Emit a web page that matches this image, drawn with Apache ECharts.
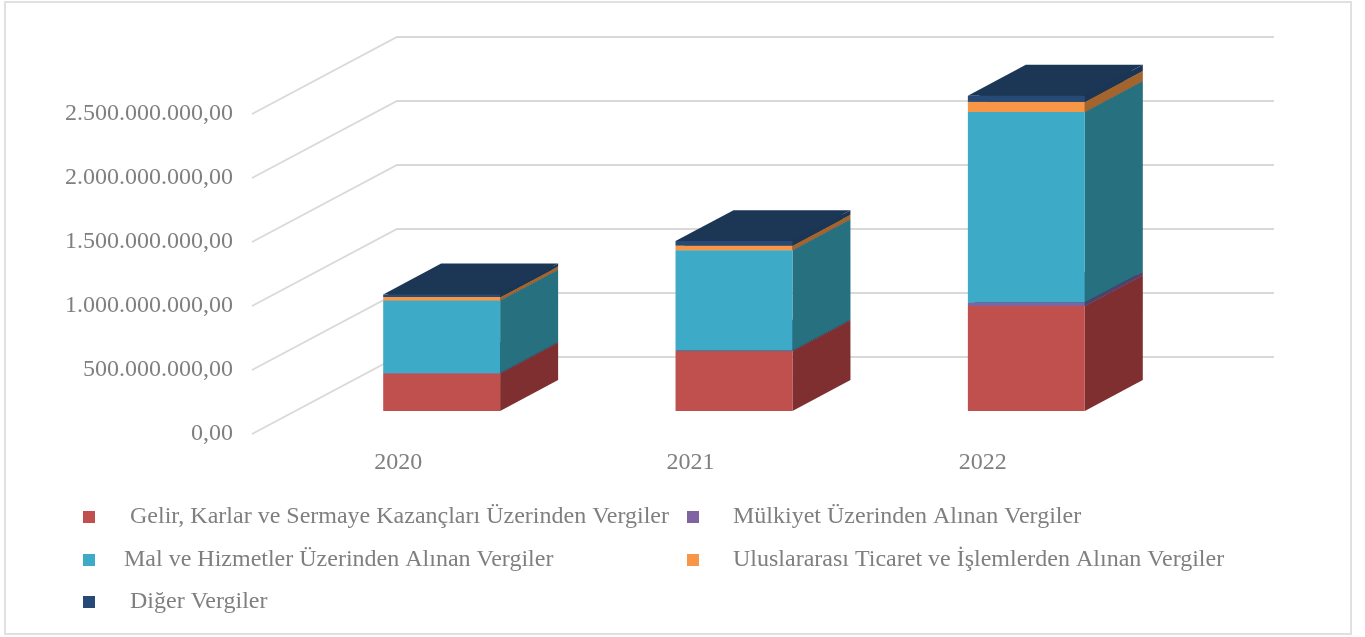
<!DOCTYPE html>
<html>
<head>
<meta charset="utf-8">
<title>Vergiler</title>
<style>
html, body { margin: 0; padding: 0; background: #fff; }
#main { width: 1365px; height: 637px; }
</style>
<script src="https://cdn.jsdelivr.net/npm/echarts@6/dist/echarts.min.js"></script>
</head>
<body>
<div id="main"></div>
<script>
var years = ['2020', '2021', '2022'];
var yTicks = [0, 500000000, 1000000000, 1500000000, 2000000000, 2500000000];

var gelir = [293000000, 467000000, 820000000];
var mulkiyet = [4000000, 5000000, 26000000];
var mal = [566000000, 784000000, 1490000000];
var ticaret = [27000000, 37000000, 80000000];
var diger = [20000000, 34000000, 47000000];

var names = [
    'Gelir, Karlar ve Sermaye Kazançları Üzerinden Vergiler',
    'Mülkiyet Üzerinden Alınan Vergiler',
    'Mal ve Hizmetler Üzerinden Alınan Vergiler',
    'Uluslararası Ticaret ve İşlemlerden Alınan Vergiler',
    'Diğer Vergiler'
];
var values = [gelir, mulkiyet, mal, ticaret, diger];

var frontColors = ['#C0504D', '#8064A2', '#3DABC7', '#F79646', '#264A75'];
var sideColors = ['#7F2F2F', '#54406B', '#27707F', '#A4642E', '#1A3654'];
var topColor = '#1B3755';

// floor depth of the fake 3d box, in pixels
var depthX = 145;
var depthY = 77;
// bar sits from 30% to 70% of the floor depth
var barStart = 0.3;
var barEnd = 0.7;

var fontName = '"Liberation Serif", "Times New Roman", serif';
var textColor = '#7F7F7F';

function formatTick(v) {
    var s = String(v).replace(/\B(?=(\d{3})+$)/g, '.');
    return s + ',00';
}

function renderWall(params, api) {
    var sys = params.coordSys;
    var y = api.coord([0, api.value(0)])[1];
    return {
        type: 'polyline',
        shape: {
            points: [
                [sys.x, y],
                [sys.x + depthX, y - depthY],
                [sys.x + sys.width + depthX, y - depthY]
            ]
        },
        style: { fill: null, stroke: '#D9D9D9', lineWidth: 1.8 }
    };
}

function makeRenderBar(idx) {
    return function (params, api) {
        var cat = api.value(0);
        var low = api.coord([cat, api.value(1)]);
        var high = api.coord([cat, api.value(2)]);
        var w = api.size([1, 0])[0] * 0.4;
        var x0 = low[0] - w / 2 + depthX * barStart;
        var x1 = x0 + w;
        var y0 = low[1] - depthY * barStart;
        var y1 = high[1] - depthY * barStart;
        var dx = depthX * (barEnd - barStart);
        var dy = depthY * (barEnd - barStart);
        return {
            type: 'group',
            children: [
                {
                    type: 'polygon',
                    shape: { points: [[x1, y0], [x1 + dx, y0 - dy], [x1 + dx, y1 - dy], [x1, y1]] },
                    style: { fill: sideColors[idx] }
                },
                {
                    type: 'polygon',
                    shape: { points: [[x0, y1], [x1, y1], [x1 + dx, y1 - dy], [x0 + dx, y1 - dy]] },
                    style: { fill: topColor }
                },
                {
                    type: 'rect',
                    shape: { x: x0, y: y1, width: w, height: y0 - y1 },
                    style: { fill: frontColors[idx] }
                }
            ]
        };
    };
}

var series = [{
    type: 'custom',
    name: 'wall',
    silent: true,
    renderItem: renderWall,
    encode: { y: 0 },
    data: yTicks.map(function (v) { return [v]; })
}];

var sum = [0, 0, 0];
for (var i = 0; i < names.length; i++) {
    var rows = [];
    for (var j = 0; j < years.length; j++) {
        rows.push([j, sum[j], sum[j] + values[i][j]]);
        sum[j] += values[i][j];
    }
    series.push({
        type: 'custom',
        name: names[i],
        renderItem: makeRenderBar(i),
        itemStyle: { color: frontColors[i] },
        encode: { x: 0, y: [1, 2] },
        data: rows
    });
}

function oneLegend(name, left, top, pad) {
    return {
        data: [name],
        left: left,
        top: top,
        padding: 0,
        itemWidth: 12,
        itemHeight: 12,
        icon: 'rect',
        selectedMode: false,
        textStyle: {
            fontFamily: fontName,
            fontSize: 24,
            color: textColor,
            padding: [0, 0, 0, pad]
        }
    };
}

var myChart = echarts.init(document.getElementById('main'));
myChart.setOption({
    animation: false,
    backgroundColor: '#fff',
    graphic: [{
        type: 'rect',
        silent: true,
        shape: { x: 5, y: 2, width: 1346, height: 632 },
        style: { fill: null, stroke: '#E0E0E0', lineWidth: 2 }
    }],
    grid: { left: 252, top: 114, width: 877, height: 320 },
    legend: [
        oneLegend(names[0], 83, 505, 30),
        oneLegend(names[1], 687, 505, 29),
        oneLegend(names[2], 83, 548, 24),
        oneLegend(names[3], 687, 548, 29),
        oneLegend(names[4], 83, 590, 30)
    ],
    xAxis: {
        type: 'category',
        data: years,
        axisLine: { show: false },
        axisTick: { show: false },
        axisLabel: { fontFamily: fontName, fontSize: 24, color: textColor, margin: 17 }
    },
    yAxis: {
        type: 'value',
        min: 0,
        max: 2500000000,
        interval: 500000000,
        axisLine: { show: false },
        axisTick: { show: false },
        splitLine: { show: false },
        axisLabel: {
            fontFamily: fontName,
            fontSize: 24,
            color: textColor,
            margin: 19,
            formatter: formatTick
        }
    },
    series: series
});
</script>
</body>
</html>
